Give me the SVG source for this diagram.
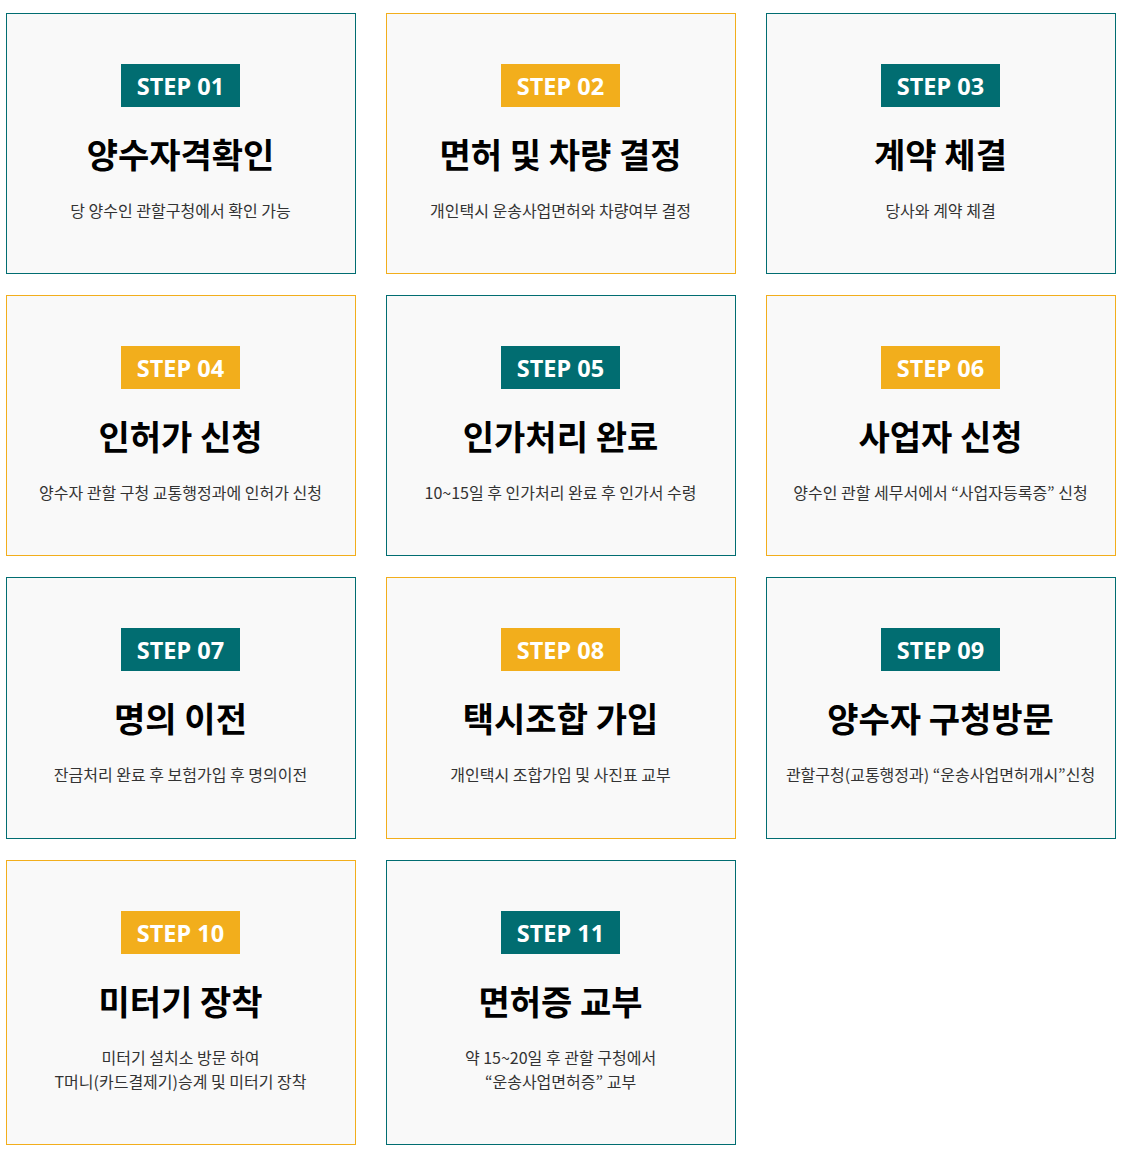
<svg xmlns="http://www.w3.org/2000/svg" width="1125" height="1162" viewBox="0 0 1125 1162">
<style>
.card{fill:#f9f9f9;stroke-width:1}
.t{stroke:#016d71}
.o{stroke:#f2ae1c}
.bt{fill:#016d71}
.bo{fill:#f2ae1c}
.step{font-family:"Noto Sans","Noto Sans CJK KR",sans-serif;font-weight:700;font-size:23.5px;fill:#ffffff;text-anchor:middle}
.title{font-family:"Noto Sans CJK KR","Noto Sans",sans-serif;font-weight:700;font-size:34px;fill:#000000;text-anchor:middle}
.desc{font-family:"Noto Sans CJK KR","Noto Sans",sans-serif;font-weight:400;font-size:16px;fill:#333333;text-anchor:middle}
</style>
<rect width="1125" height="1162" fill="#ffffff"/>
<g id="step01">
<rect class="card t" x="6.5" y="13.5" width="349" height="260"/>
<rect class="bt" x="121" y="64" width="119" height="43"/>
<text class="step" x="180.5" y="94.5">STEP 01</text>
<text class="title" x="180.5" y="168">양수자격확인</text>
<text class="desc" x="180.5" y="217">당 양수인 관할구청에서 확인 가능</text>
</g>
<g id="step02">
<rect class="card o" x="386.5" y="13.5" width="349" height="260"/>
<rect class="bo" x="501" y="64" width="119" height="43"/>
<text class="step" x="560.5" y="94.5">STEP 02</text>
<text class="title" x="560.5" y="168">면허 및 차량 결정</text>
<text class="desc" x="560.5" y="217">개인택시 운송사업면허와 차량여부 결정</text>
</g>
<g id="step03">
<rect class="card t" x="766.5" y="13.5" width="349" height="260"/>
<rect class="bt" x="881" y="64" width="119" height="43"/>
<text class="step" x="940.5" y="94.5">STEP 03</text>
<text class="title" x="940.5" y="168">계약 체결</text>
<text class="desc" x="940.5" y="217">당사와 계약 체결</text>
</g>
<g id="step04">
<rect class="card o" x="6.5" y="295.5" width="349" height="260"/>
<rect class="bo" x="121" y="346" width="119" height="43"/>
<text class="step" x="180.5" y="376.5">STEP 04</text>
<text class="title" x="180.5" y="450">인허가 신청</text>
<text class="desc" x="180.5" y="499">양수자 관할 구청 교통행정과에 인허가 신청</text>
</g>
<g id="step05">
<rect class="card t" x="386.5" y="295.5" width="349" height="260"/>
<rect class="bt" x="501" y="346" width="119" height="43"/>
<text class="step" x="560.5" y="376.5">STEP 05</text>
<text class="title" x="560.5" y="450">인가처리 완료</text>
<text class="desc" x="560.5" y="499">10~15일 후 인가처리 완료 후 인가서 수령</text>
</g>
<g id="step06">
<rect class="card o" x="766.5" y="295.5" width="349" height="260"/>
<rect class="bo" x="881" y="346" width="119" height="43"/>
<text class="step" x="940.5" y="376.5">STEP 06</text>
<text class="title" x="940.5" y="450">사업자 신청</text>
<text class="desc" x="940.5" y="499">양수인 관할 세무서에서 “사업자등록증” 신청</text>
</g>
<g id="step07">
<rect class="card t" x="6.5" y="577.5" width="349" height="261"/>
<rect class="bt" x="121" y="628" width="119" height="43"/>
<text class="step" x="180.5" y="658.5">STEP 07</text>
<text class="title" x="180.5" y="732">명의 이전</text>
<text class="desc" x="180.5" y="781">잔금처리 완료 후 보험가입 후 명의이전</text>
</g>
<g id="step08">
<rect class="card o" x="386.5" y="577.5" width="349" height="261"/>
<rect class="bo" x="501" y="628" width="119" height="43"/>
<text class="step" x="560.5" y="658.5">STEP 08</text>
<text class="title" x="560.5" y="732">택시조합 가입</text>
<text class="desc" x="560.5" y="781">개인택시 조합가입 및 사진표 교부</text>
</g>
<g id="step09">
<rect class="card t" x="766.5" y="577.5" width="349" height="261"/>
<rect class="bt" x="881" y="628" width="119" height="43"/>
<text class="step" x="940.5" y="658.5">STEP 09</text>
<text class="title" x="940.5" y="732">양수자 구청방문</text>
<text class="desc" x="940.5" y="781">관할구청(교통행정과) “운송사업면허개시”신청</text>
</g>
<g id="step10">
<rect class="card o" x="6.5" y="860.5" width="349" height="284"/>
<rect class="bo" x="121" y="911" width="119" height="43"/>
<text class="step" x="180.5" y="941.5">STEP 10</text>
<text class="title" x="180.5" y="1015">미터기 장착</text>
<text class="desc" x="180.5" y="1064">미터기 설치소 방문 하여</text>
<text class="desc" x="180.5" y="1088">T머니(카드결제기)승계 및 미터기 장착</text>
</g>
<g id="step11">
<rect class="card t" x="386.5" y="860.5" width="349" height="284"/>
<rect class="bt" x="501" y="911" width="119" height="43"/>
<text class="step" x="560.5" y="941.5">STEP 11</text>
<text class="title" x="560.5" y="1015">면허증 교부</text>
<text class="desc" x="560.5" y="1064">약 15~20일 후 관할 구청에서</text>
<text class="desc" x="560.5" y="1088">“운송사업면허증” 교부</text>
</g>
<g id="connectors"></g>
</svg>
